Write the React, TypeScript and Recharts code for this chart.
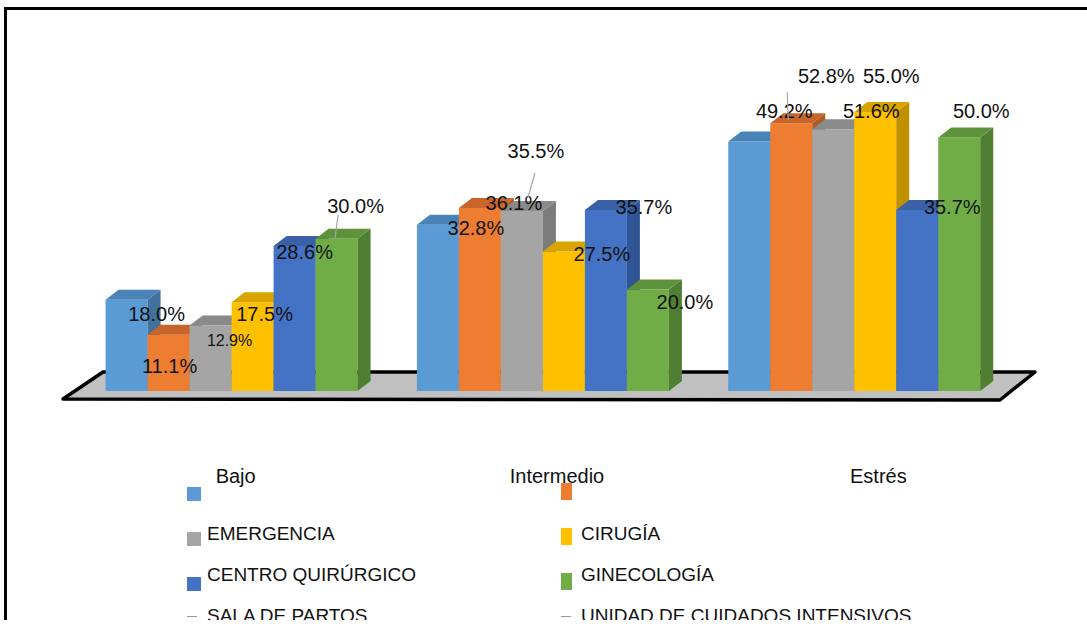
import React from 'react';
import { BarChart, Bar, XAxis, YAxis, Legend, LabelList } from 'recharts';

// ---------- data ----------
const CATEGORIES = ['Bajo', 'Intermedio', 'Estrés'];
const SERIES_NAMES = ['', '', 'EMERGENCIA', 'CIRUGÍA', 'CENTRO QUIRÚRGICO', 'GINECOLOGÍA'];
const EXTRA_LEGEND = ['SALA DE PARTOS', 'UNIDAD DE CUIDADOS INTENSIVOS'];
const S1 = [18.0, 32.8, 49.2];
const S2 = [11.1, 36.1, 52.8];
const S3 = [12.9, 35.5, 51.6];
const S4 = [17.5, 27.5, 55.0];
const S5 = [28.6, 35.7, 35.7];
const S6 = [30.0, 20.0, 50.0];
const SERIES = [S1, S2, S3, S4, S5, S6];

// ---------- styles ----------
const FRONT = ['#5B9BD5', '#ED7D31', '#A5A5A5', '#FFC000', '#4472C4', '#70AD47'];
const TOP = ['#4A83B8', '#C8652A', '#8A8A8A', '#D9A300', '#3A60A8', '#5E923B'];
const SIDE = ['#41719C', '#AE5A21', '#7B7B7B', '#BF9000', '#2F5597', '#507E32'];
const DEPTH_X = 13;
const DEPTH_Y = 10;
const FONT = '"Liberation Sans", Arial, sans-serif';

const W = 1087;
const H = 624;
const XAXIS_H = 30;
const MARGIN = { top: 36, right: 77, bottom: 203, left: 76 };

// label placement (dx, dy from bar front-top centre, font size)
const LABEL_LAYOUT: number[][][] = [
  [[30, 14, 20], [38, 3, 20], [35, -30, 20]],
  [[1, 31, 20], [34, -5, 20], [35, -47, 20]],
  [[19, 15, 16], [14, -60, 20], [38, -18, 20]],
  [[12, 12, 20], [38, 2, 20], [16, -36, 20]],
  [[10, 6, 20], [38, -3, 20], [35, -3, 20]],
  [[19, -33, 20], [37, 12, 20], [22, -26, 20]],
];
const LEADERS: Record<string, number[]> = {
  '5-0': [1.5, -24, -1.5, -1],
  '2-1': [13, -38, 6, -13],
  '1-2': [-4, -31, -3, -3],
};

const data = CATEGORIES.map((cat, i) => {
  const row: Record<string, string | number> = { cat };
  SERIES.forEach((s, k) => {
    row['s' + k] = s[i];
  });
  return row;
});

const makeShape = (k: number) => (props: any) => {
  const { x, y, width, height } = props;
  if (width == null || height == null) return null;
  const dx = DEPTH_X;
  const dy = DEPTH_Y;
  return (
    <g>
      <rect x={x} y={y} width={width} height={height} fill={FRONT[k]} />
      <polygon
        points={`${x + width},${y} ${x + width + dx},${y - dy} ${x + width + dx},${y + height - dy} ${x + width},${y + height}`}
        fill={SIDE[k]}
      />
      <polygon
        points={`${x},${y} ${x + dx},${y - dy} ${x + width + dx},${y - dy} ${x + width},${y}`}
        fill={TOP[k]}
      />
    </g>
  );
};

const makeLabel = (k: number) => (props: any) => {
  const vb = props.viewBox || {};
  const x = props.x ?? vb.x;
  const y = props.y ?? vb.y;
  const width = props.width ?? vb.width;
  const index = props.index;
  const value = props.value;
  if (x == null || y == null || index == null) return null;
  const cx = x + width / 2;
  const [dx, dy, fs] = LABEL_LAYOUT[k][index];
  const leader = LEADERS[`${k}-${index}`];
  return (
    <g>
      {leader && (
        <line
          x1={cx + leader[0]}
          y1={y + leader[1]}
          x2={cx + leader[2]}
          y2={y + leader[3]}
          stroke="#A6A6A6"
          strokeWidth={1.2}
        />
      )}
      <text
        x={cx + dx}
        y={y + dy}
        textAnchor="middle"
        dominantBaseline="central"
        fontSize={fs}
        fontFamily={FONT}
        fill="#111"
      >
        {`${Number(value).toFixed(1)}%`}
      </text>
    </g>
  );
};

const CategoryTick = (props: any) => {
  const { x, y, payload, index } = props;
  return (
    <text
      x={x + 4 + 10 * index}
      y={y + 84}
      textAnchor="middle"
      fontSize={20}
      fontFamily={FONT}
      fill="#111"
    >
      {payload.value}
    </text>
  );
};

const renderLegend = () => {
  const items = [...SERIES_NAMES, ...EXTRA_LEGEND];
  return (
    <div style={{ position: 'relative', width: W, height: 0 }}>
      {items.map((name, i) => {
        const col = i % 2;
        const row = Math.floor(i / 2);
        const swX = col === 0 ? 187 : 561;
        const swW = col === 0 ? 14 : 11;
        const swH = col === 0 ? 14 : 17;
        const swY = (col === 0 ? 487 : 483) + 45 * row;
        const baseline = 541 + 41 * (row - 1);
        return (
          <React.Fragment key={i}>
            {i < FRONT.length ? (
              <div
                style={{
                  position: 'absolute',
                  left: swX,
                  top: swY,
                  width: swW,
                  height: swH,
                  background: FRONT[i],
                }}
              />
            ) : (
              <div
                style={{
                  position: 'absolute',
                  left: swX,
                  top: baseline - 7,
                  width: 10,
                  height: 1,
                  background: '#999',
                }}
              />
            )}
            {name && (
              <div
                style={{
                  position: 'absolute',
                  left: col === 0 ? 207 : 581,
                  top: baseline - 18,
                  fontFamily: FONT,
                  fontSize: 19,
                  lineHeight: '22px',
                  color: '#111',
                  whiteSpace: 'nowrap',
                }}
              >
                {name}
              </div>
            )}
          </React.Fragment>
        );
      })}
    </div>
  );
};

export default function App() {
  const plotLeft = MARGIN.left;
  const plotRight = W - MARGIN.right;
  const plotBottom = H - MARGIN.bottom - XAXIS_H;
  const floorPts = [
    [plotLeft - 13, plotBottom + 8],
    [plotLeft + 27, plotBottom - 19],
    [plotRight + 25, plotBottom - 19],
    [plotRight - 10, plotBottom + 9],
  ]
    .map((p) => p.join(','))
    .join(' ');

  return (
    <div
      style={{
        position: 'absolute',
        left: 0,
        top: 0,
        width: W,
        height: H,
        background: '#fff',
        overflow: 'hidden',
      }}
    >
      <svg width={W} height={H} style={{ position: 'absolute', left: 0, top: 0 }}>
        <polygon
          points={floorPts}
          fill="#C0C0C0"
          stroke="#000"
          strokeWidth={3.5}
          strokeLinejoin="round"
        />
      </svg>
      <div style={{ position: 'absolute', left: 0, top: 0 }}>
        <BarChart
          width={W}
          height={H}
          data={data}
          margin={MARGIN}
          barCategoryGap="9.5%"
          barGap={0}
        >
          <XAxis
            dataKey="cat"
            height={XAXIS_H}
            axisLine={false}
            tickLine={false}
            tick={<CategoryTick />}
            interval={0}
          />
          <YAxis hide domain={[0, 70]} />
          <Legend
            content={renderLegend}
            wrapperStyle={{ position: 'absolute', left: 0, top: 0, width: W, height: 0 }}
          />
          {SERIES.map((_, k) => (
            <Bar
              key={k}
              dataKey={'s' + k}
              name={SERIES_NAMES[k] || ' '}
              fill={FRONT[k]}
              shape={makeShape(k)}
              isAnimationActive={false}
            >
              <LabelList dataKey={'s' + k} content={makeLabel(k)} />
            </Bar>
          ))}
        </BarChart>
      </div>
      <div
        style={{
          position: 'absolute',
          left: 4,
          top: 7,
          width: W + 20,
          height: 610,
          border: '3px solid #000',
          boxSizing: 'content-box',
          pointerEvents: 'none',
        }}
      />
      <div
        style={{
          position: 'absolute',
          left: 0,
          top: 620,
          width: W,
          height: 4,
          background: '#fff',
        }}
      />
    </div>
  );
}
